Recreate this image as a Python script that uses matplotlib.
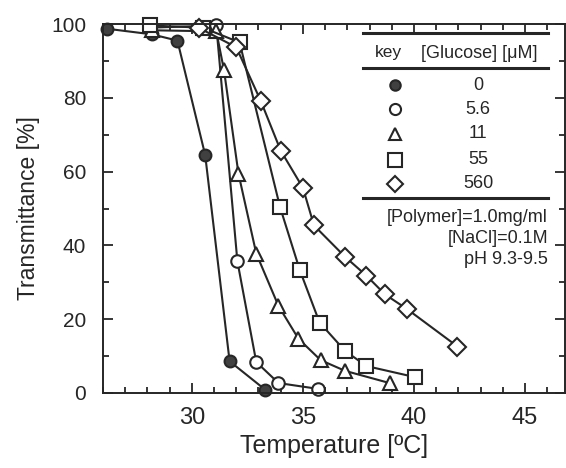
import matplotlib
matplotlib.use('Agg')
import matplotlib.pyplot as plt
from matplotlib.lines import Line2D
from matplotlib.ticker import MultipleLocator

plt.rcParams['font.family'] = ['Liberation Sans', 'DejaVu Sans']

# glucose concentrations [uM] and measured curves
glucose = ['0', '5.6', '11', '55', '560']

t_0 = [26.2, 28.2, 29.35, 30.6, 31.7, 33.3]
tr_0 = [98.7, 97.2, 95.5, 64.5, 8.6, 0.9]

t_56 = [28.1, 31.1, 32.05, 32.9, 33.9, 35.7]
tr_56 = [99.0, 99.6, 35.7, 8.4, 2.7, 1.1]

t_11 = [28.2, 31.1, 31.45, 32.1, 32.9, 33.9, 34.8, 35.8, 36.9, 38.9]
tr_11 = [98.3, 98.0, 87.4, 59.4, 37.8, 23.6, 14.7, 8.9, 6.0, 2.7]

t_55 = [28.1, 30.5, 32.15, 33.97, 34.86, 35.75, 36.9, 37.86, 40.05]
tr_55 = [99.6, 99.0, 95.0, 50.4, 33.3, 19.1, 11.4, 7.3, 4.3]

t_560 = [30.3, 32.0, 33.1, 34.0, 35.0, 35.5, 36.9, 37.86, 38.7, 39.7, 41.96]
tr_560 = [99.0, 93.7, 79.2, 65.7, 55.6, 45.4, 36.9, 31.8, 26.7, 22.7, 12.6]

fig = plt.figure(figsize=(5.66, 4.68), dpi=100)
ax = fig.add_axes([103/566, 1-393/468, 462/566, 369/468])

dark = '#262626'
styles = [
    dict(marker='o', mfc='#404040', mec=dark, ms=8.5),
    dict(marker='o', mfc='white', mec=dark, ms=9),
    dict(marker='^', mfc='white', mec=dark, ms=9.5),
    dict(marker='s', mfc='white', mec=dark, ms=10.5),
    dict(marker='D', mfc='white', mec=dark, ms=9.5),
]
series = [(t_0, tr_0), (t_56, tr_56), (t_11, tr_11), (t_55, tr_55), (t_560, tr_560)]
for (x, y), st in zip(series, styles):
    ax.plot(x, y, color=dark, lw=1.5, mew=1.5, clip_on=False, **st)

ax.set_xlim(26, 46.8)
ax.set_ylim(0, 100)
ax.xaxis.set_major_locator(MultipleLocator(5))
ax.xaxis.set_minor_locator(MultipleLocator(1))
ax.yaxis.set_major_locator(MultipleLocator(20))
ax.yaxis.set_minor_locator(MultipleLocator(10))
ax.tick_params(which='both', direction='in', top=True, right=True,
               colors=dark, width=1.3)
ax.tick_params(which='major', length=7)
ax.tick_params(which='minor', length=4)
ax.tick_params(axis='x', which='major', labelsize=17, pad=10)
ax.tick_params(axis='y', which='major', labelsize=15, pad=12)
for s in ax.spines.values():
    s.set_linewidth(1.4)
    s.set_color(dark)

ax.set_xlabel('Temperature [ºC]', fontsize=18, color=dark, labelpad=4)
ax.set_ylabel('Transmittance [%]', fontsize=16.5, color=dark, labelpad=8)

# key table in the upper right
def fx(px):
    return px / 566

def fy(py):
    return 1 - py / 468

for py in (33, 68, 198):
    fig.add_artist(Line2D([fx(363), fx(548)], [fy(py), fy(py)],
                          transform=fig.transFigure, color=dark, lw=2.2))

fig.text(fx(388), fy(53), 'key', fontsize=12.5, ha='center', va='center', color=dark)
fig.text(fx(479), fy(53), '[Glucose] [μM]', fontsize=13, ha='center', va='center', color=dark)

rows_y = [85, 109, 134, 160, 184]
for lab, st, py in zip(glucose, styles, rows_y):
    st2 = dict(st)
    st2['ms'] = st['ms'] - 1
    fig.add_artist(Line2D([fx(395)], [fy(py)], transform=fig.transFigure,
                          lw=0, mew=1.5, **st2))
    fig.text(fx(478), fy(py), lab, fontsize=13, ha='center', va='center', color=dark)

notes = ['[Polymer]=1.0mg/ml', '[NaCl]=0.1M', 'pH 9.3-9.5']
for txt, py in zip(notes, (217, 239, 260)):
    fig.text(fx(548), fy(py), txt, fontsize=13, ha='right', va='center', color=dark)

fig.savefig('out.png', dpi=100)
